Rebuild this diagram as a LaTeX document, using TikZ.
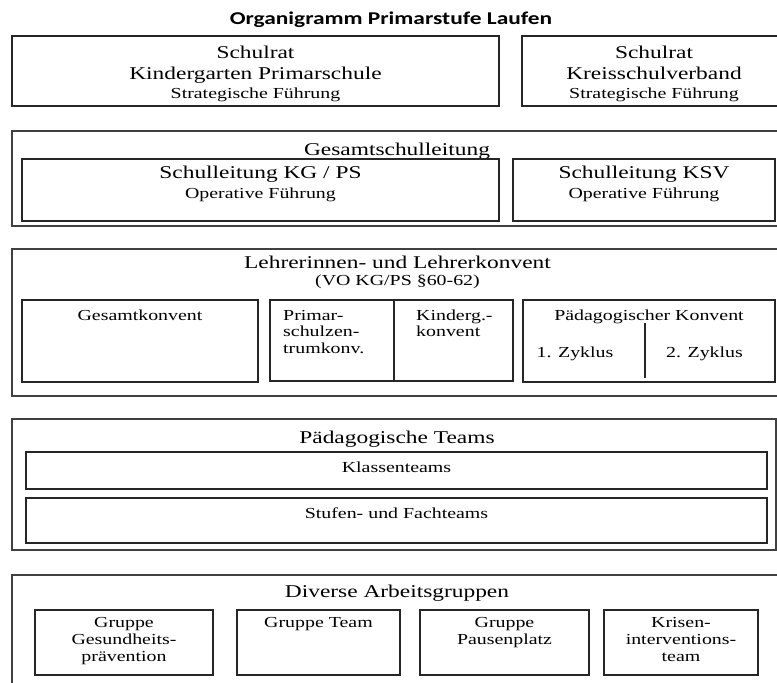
\documentclass[tikz,border=0pt]{standalone}
\usepackage{fontspec}
\setmainfont{Liberation Serif}[FakeStretch=1.3]
\newfontfamily\titlefont{Carlito}[FakeStretch=1.3]
\begin{document}
\begin{tikzpicture}[x=1pt,y=-1pt,
  outerbox/.style={draw=black!75, line width=1.4pt},
  innerbox/.style={draw=black!85, line width=1.1pt},
  big/.style={font=\fontsize{18}{20}\selectfont, anchor=base, inner sep=0pt},
  small/.style={font=\fontsize{15.3}{17}\selectfont, anchor=base, inner sep=0pt},
  smallw/.style={small, anchor=base west}]
\useasboundingbox (0,0) rectangle (777,683);
\clip (0,0) rectangle (777,683);
% title
\node[font=\titlefont\bfseries\fontsize{18}{20}\selectfont, anchor=base, inner sep=0pt] (title) at (391,24) {Organigramm Primarstufe Laufen};
% row 1
\draw[innerbox] (12,36) rectangle (499,106);
\node[big] (sr1a) at (255.5,58) {Schulrat};
\node[big] (sr1b) at (255.5,79) {Kindergarten Primarschule};
\node[small] (sr1c) at (255.5,98) {Strategische Führung};
\draw[innerbox] (522,36) rectangle (786,106);
\node[big] (sr2a) at (654,58) {Schulrat};
\node[big] (sr2b) at (654,79) {Kreisschulverband};
\node[small] (sr2c) at (654,98) {Strategische Führung};
% row 2
\draw[outerbox] (12,131) rectangle (786,226);
\node[big] (gsl) at (397,155) {Gesamtschulleitung};
\draw[innerbox] (22,159) rectangle (499,221);
\node[big] (sl1a) at (260.5,178) {Schulleitung KG / PS};
\node[small] (sl1b) at (260.5,198) {Operative Führung};
\draw[innerbox] (513,159) rectangle (775,221);
\node[big] (sl2a) at (644,178) {Schulleitung KSV};
\node[small] (sl2b) at (644,198) {Operative Führung};
% row 3
\draw[outerbox] (12,249) rectangle (784,396);
\node[big] (lk) at (397.5,268) {Lehrerinnen- und Lehrerkonvent};
\node[small] (vo) at (397.5,285) {(VO KG/PS §60-62)};
\draw[innerbox] (22,300) rectangle (258,382);
\node[small] (gk) at (140,320) {Gesamtkonvent};
\draw[innerbox] (270,300) rectangle (513,381);
\draw[innerbox] (394,300) -- (394,381);
\node[smallw] (pa) at (283,320) {Primar-};
\node[smallw] (pb) at (283,336.5) {schulzen-};
\node[smallw] (pc) at (283,353) {trumkonv.};
\node[smallw] (ka) at (416,320) {Kinderg.-};
\node[smallw] (kb) at (416,336.5) {konvent};
\draw[innerbox] (523,300) rectangle (775,382);
\node[small] (pk) at (649,320) {Pädagogischer Konvent};
\coordinate (zt) at (645,323);
\coordinate (zb) at (645,378);
\draw[innerbox] (zt) -- (zb);
\node[small] (z1) at (575,357) {1. Zyklus};
\node[small] (z2) at (704.5,357) {2. Zyklus};
% row 4
\draw[outerbox] (12,419) rectangle (776,550);
\node[big] (pt) at (397,443) {Pädagogische Teams};
\draw[innerbox] (26,452) rectangle (767,489);
\node[small] (kt) at (396.5,472) {Klassenteams};
\draw[innerbox] (26,498) rectangle (767,543);
\node[small] (sf) at (396.5,518) {Stufen- und Fachteams};
% row 5
\draw[outerbox] (12,575) rectangle (784,700);
\node[big] (da) at (397,597) {Diverse Arbeitsgruppen};
\draw[innerbox] (35,610) rectangle (213,675);
\node[small] (g1a) at (124,627) {Gruppe};
\node[small] (g1b) at (124,644) {Gesundheits-};
\node[small] (g1c) at (124,661) {prävention};
\draw[innerbox] (237,610) rectangle (400,675);
\node[small] (g2a) at (318.5,627) {Gruppe Team};
\draw[innerbox] (420,610) rectangle (589,675);
\node[small] (g3a) at (504.5,627) {Gruppe};
\node[small] (g3b) at (504.5,644) {Pausenplatz};
\draw[innerbox] (604,610) rectangle (758,675);
\node[small] (g4a) at (681,627) {Krisen-};
\node[small] (g4b) at (681,644) {interventions-};
\node[small] (g4c) at (681,661) {team};
\end{tikzpicture}
\end{document}
